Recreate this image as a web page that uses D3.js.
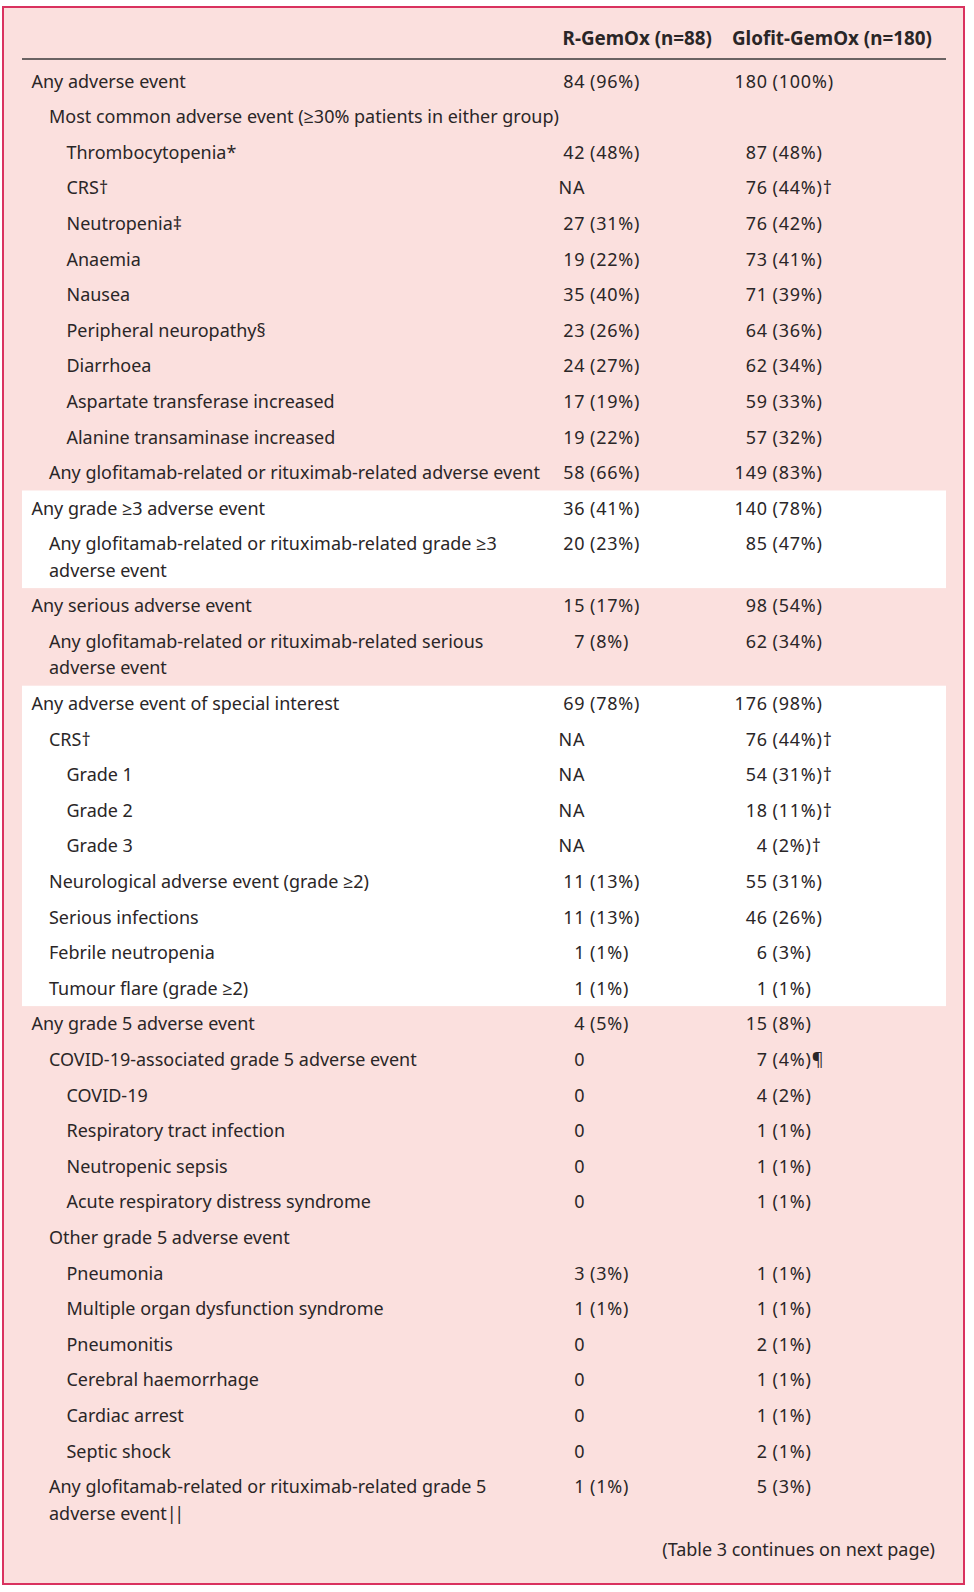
<!DOCTYPE html>
<html>
<head>
<meta charset="utf-8">
<script src="https://cdn.jsdelivr.net/npm/d3@7"></script>
<style>
  html, body { margin: 0; padding: 0; background: #ffffff; }
  svg { display: block; }
  text { font-family: "Noto Sans", "Open Sans", sans-serif; fill: #2a2627; }
</style>
</head>
<body>
<svg id="chart" width="974" height="1592"></svg>
<script>
// ---------------- DATA ----------------
const columnHeaders = ["R-GemOx (n=88)", "Glofit-GemOx (n=180)"];

// "\n" marks a line break inside a label
const rowLabels = [
  "Any adverse event",
  "Most common adverse event (≥30% patients in either group)",
  "Thrombocytopenia*",
  "CRS†",
  "Neutropenia‡",
  "Anaemia",
  "Nausea",
  "Peripheral neuropathy§",
  "Diarrhoea",
  "Aspartate transferase increased",
  "Alanine transaminase increased",
  "Any glofitamab-related or rituximab-related adverse event",
  "Any grade ≥3 adverse event",
  "Any glofitamab-related or rituximab-related grade ≥3\nadverse event",
  "Any serious adverse event",
  "Any glofitamab-related or rituximab-related serious\nadverse event",
  "Any adverse event of special interest",
  "CRS†",
  "Grade 1",
  "Grade 2",
  "Grade 3",
  "Neurological adverse event (grade ≥2)",
  "Serious infections",
  "Febrile neutropenia",
  "Tumour flare (grade ≥2)",
  "Any grade 5 adverse event",
  "COVID-19-associated grade 5 adverse event",
  "COVID-19",
  "Respiratory tract infection",
  "Neutropenic sepsis",
  "Acute respiratory distress syndrome",
  "Other grade 5 adverse event",
  "Pneumonia",
  "Multiple organ dysfunction syndrome",
  "Pneumonitis",
  "Cerebral haemorrhage",
  "Cardiac arrest",
  "Septic shock",
  "Any glofitamab-related or rituximab-related grade 5\nadverse event||"
];

const rowLevels = [0,1,2,2,2,2,2,2,2,2,2,1,0,1,0,1,0,1,2,2,2,1,1,1,1,0,1,2,2,2,2,1,2,2,2,2,2,2,1];

const rgemoxValues = [
  "84 (96%)", "", "42 (48%)", "NA", "27 (31%)", "19 (22%)", "35 (40%)", "23 (26%)",
  "24 (27%)", "17 (19%)", "19 (22%)", "58 (66%)", "36 (41%)", "20 (23%)", "15 (17%)",
  "7 (8%)", "69 (78%)", "NA", "NA", "NA", "NA", "11 (13%)", "11 (13%)", "1 (1%)",
  "1 (1%)", "4 (5%)", "0", "0", "0", "0", "0", "", "3 (3%)", "1 (1%)", "0", "0",
  "0", "0", "1 (1%)"
];

const glofitValues = [
  "180 (100%)", "", "87 (48%)", "76 (44%)†", "76 (42%)", "73 (41%)", "71 (39%)", "64 (36%)",
  "62 (34%)", "59 (33%)", "57 (32%)", "149 (83%)", "140 (78%)", "85 (47%)", "98 (54%)",
  "62 (34%)", "176 (98%)", "76 (44%)†", "54 (31%)†", "18 (11%)†", "4 (2%)†", "55 (31%)",
  "46 (26%)", "6 (3%)", "1 (1%)", "15 (8%)", "7 (4%)¶", "4 (2%)", "1 (1%)", "1 (1%)",
  "1 (1%)", "", "1 (1%)", "1 (1%)", "2 (1%)", "1 (1%)", "1 (1%)", "2 (1%)", "5 (3%)"
];

// white row groups: [firstRow, lastRow]
const whiteGroups = [[12, 13], [16, 24]];

const footnoteText = "(Table 3 continues on next page)";

// ---------------- LAYOUT ----------------
const svg = d3.select("#chart");
const W = 974, H = 1592;
const box = { x: 3, y: 7, w: 961, h: 1577 };
const inner = { x0: 22, x1: 946 };
const rowPitch = 35.6, lineGap = 26.4, firstRowTop = 63.3;
const valueSpacing = 0.8;
const indentX = d3.scaleOrdinal().domain([0, 1, 2]).range([31.5, 49, 66.5]);
const countRight = d3.scaleOrdinal().domain([0, 1]).range([584.5, 767]);
const headerLeft = d3.scaleOrdinal().domain([0, 1]).range([562.6, 732]);

// row geometry
const rows = rowLabels.map((lab, i) => ({
  lines: lab.split("\n"),
  level: rowLevels[i],
  vals: [rgemoxValues[i], glofitValues[i]],
  i
}));
let acc = 0;
rows.forEach(r => { r.units0 = acc; acc += 1 + (r.lines.length - 1) * (lineGap / rowPitch); r.units1 = acc; });
const y = d3.scaleLinear().domain([0, acc]).range([firstRowTop, firstRowTop + acc * rowPitch]);

// font size fitting
const probe = svg.append("text").attr("font-size", 20).text("Any glofitamab-related or rituximab-related adverse event");
const fs = 20 * 491 / probe.node().getComputedTextLength();
probe.remove();
const probeH = svg.append("text").attr("font-size", 20).attr("font-weight", 700).text(columnHeaders[0]);
const fsH = 20 * 149.5 / probeH.node().getComputedTextLength();
probeH.remove();

// background
svg.append("rect").attr("x", 0).attr("y", 0).attr("width", W).attr("height", H).attr("fill", "#ffffff");
svg.append("rect").attr("x", box.x).attr("y", box.y).attr("width", box.w).attr("height", box.h)
  .attr("fill", "#fbe0de").attr("stroke", "#d9325f").attr("stroke-width", 2);

// white groups
svg.selectAll("rect.band").data(whiteGroups).join("rect").attr("class", "band")
  .attr("x", inner.x0).attr("width", inner.x1 - inner.x0)
  .attr("y", d => y(rows[d[0]].units0))
  .attr("height", d => y(rows[d[1]].units1) - y(rows[d[0]].units0))
  .attr("fill", "#ffffff");

// header
svg.selectAll("text.hdr").data(columnHeaders).join("text").attr("class", "hdr")
  .attr("x", (d, i) => headerLeft(i)).attr("y", 45)
  .attr("font-size", fsH).attr("font-weight", 700).text(d => d);
svg.append("line").attr("x1", inner.x0).attr("x2", inner.x1).attr("y1", 59).attr("y2", 59)
  .attr("stroke", "#3a3a3a").attr("stroke-width", 1.3);

// rows
const g = svg.selectAll("g.row").data(rows).join("g").attr("class", "row");
const baseOff = 0.36 * fs;
g.each(function(r) {
  const sel = d3.select(this);
  const cy = y(r.units0) + rowPitch / 2;
  r.lines.forEach((ln, k) => {
    const t = sel.append("text").attr("x", indentX(r.level)).attr("y", cy + k * lineGap + baseOff)
      .attr("font-size", fs);
    if (ln.endsWith("||")) {
      t.append("tspan").text(ln.slice(0, -2));
      t.append("tspan").attr("letter-spacing", -2.5).text("||");
    } else {
      t.text(ln);
    }
  });
  r.vals.forEach((v, c) => {
    if (!v) return;
    const m = v.match(/^(\S+)(.*)$/);
    sel.append("text").attr("x", countRight(c) + valueSpacing).attr("y", cy + baseOff)
      .attr("text-anchor", "end").attr("font-size", fs)
      .attr("letter-spacing", valueSpacing).text(m[1]);
    if (m[2]) {
      sel.append("text").attr("x", countRight(c)).attr("y", cy + baseOff)
        .attr("font-size", fs).attr("letter-spacing", valueSpacing)
        .attr("xml:space", "preserve").style("white-space", "pre").text(m[2]);
    }
  });
});

// footnote
svg.append("text").attr("x", 935).attr("y", y(acc) + 19 + baseOff).attr("text-anchor", "end")
  .attr("font-size", fs).text(footnoteText);
</script>
</body>
</html>
